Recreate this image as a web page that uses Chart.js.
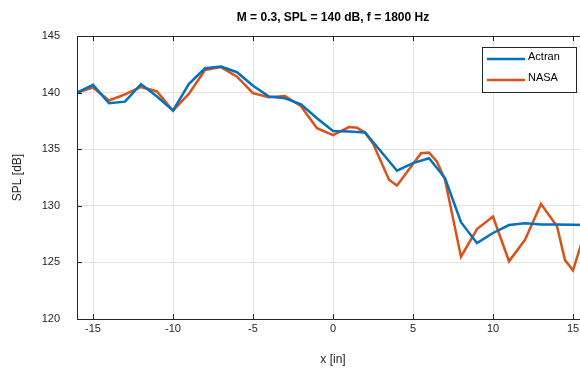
<!DOCTYPE html>
<html lang="en">
<head>
    <meta charset="UTF-8">
    <title>SPL vs x</title>
    <script src="https://cdn.jsdelivr.net/npm/chart.js"></script>
    <style>
        html, body { margin: 0; padding: 0; background: #fff; overflow: hidden; }
        #wrap { width: 600px; height: 371px; }
    </style>
</head>
<body>
    <div id="wrap"><canvas id="grafico" width="600" height="371"></canvas></div>

    <script>
        // dados
        const actranX = [-16, -15, -14, -13, -12, -11, -10, -9, -8, -7, -6, -5, -4, -3, -2, -1, 0,
                         1, 2, 3, 4, 5, 6, 7, 8, 9, 10, 11, 12, 13, 14, 15, 16];
        const actranY = [140.0, 140.68, 139.06, 139.2, 140.75, 139.65, 138.41, 140.77, 142.15, 142.3, 141.8, 140.6, 139.65, 139.5, 138.97, 137.74, 136.6,
                         136.56, 136.47, 134.8, 133.1, 133.77, 134.2, 132.45, 128.55, 126.7, 127.6, 128.3, 128.45, 128.35, 128.35, 128.33, 128.3];

        const nasaX = [-16, -15, -14, -13, -12, -11, -10, -9, -8, -7, -6, -5, -4, -3, -2, -1, 0,
                       1, 1.5, 2, 2.5, 3.5, 4, 5, 5.5, 6, 6.5, 7, 8, 9, 10, 11, 12, 13, 14, 14.5, 15, 16];
        const nasaY = [140.0, 140.45, 139.3, 139.85, 140.5, 140.1, 138.4, 139.9, 142.0, 142.25, 141.4, 139.95, 139.6, 139.7, 138.8, 136.86, 136.25,
                       136.95, 136.9, 136.47, 135.5, 132.3, 131.8, 133.7, 134.65, 134.7, 133.9, 132.3, 125.5, 127.95, 129.05, 125.1, 127.0, 130.15, 128.2, 125.2, 124.3, 128.8];

        const xTicks = [-15, -10, -5, 0, 5, 10, 15];
        const yTicks = [120, 125, 130, 135, 140, 145];

        const fonte = 'Liberation Sans, Arial, sans-serif';
        const corEixo = '#262626';

        function pares(xs, ys) {
            return xs.map((x, i) => ({ x: x, y: ys[i] }));
        }

        // caixa do eixo, ticks para dentro e legenda (estilo MATLAB)
        const caixaPlugin = {
            id: 'caixa',
            afterDraw(chart) {
                const { ctx, chartArea: a, scales } = chart;
                const sx = scales.x, sy = scales.y;
                ctx.save();
                ctx.strokeStyle = corEixo;
                ctx.lineWidth = 1;
                ctx.beginPath();
                ctx.rect(Math.round(a.left) + 0.5, Math.round(a.top) + 0.5, Math.round(a.right - a.left), Math.round(a.bottom - a.top));
                ctx.stroke();

                ctx.beginPath();
                xTicks.forEach(v => {
                    const px = Math.round(sx.getPixelForValue(v)) + 0.5;
                    ctx.moveTo(px, a.bottom); ctx.lineTo(px, a.bottom - 5);
                    ctx.moveTo(px, a.top); ctx.lineTo(px, a.top + 5);
                });
                yTicks.forEach(v => {
                    const py = Math.round(sy.getPixelForValue(v)) + 0.5;
                    ctx.moveTo(a.left, py); ctx.lineTo(a.left + 5, py);
                    ctx.moveTo(a.right, py); ctx.lineTo(a.right - 5, py);
                });
                ctx.stroke();

                // legenda
                const lx = 482.5, ly = 47.5, lw = 94, lh = 45;
                ctx.fillStyle = '#fff';
                ctx.fillRect(lx, ly, lw, lh);
                ctx.strokeStyle = corEixo;
                ctx.strokeRect(lx, ly, lw, lh);
                ctx.font = '11px ' + fonte;
                ctx.textBaseline = 'middle';
                ctx.textAlign = 'left';
                chart.data.datasets.forEach((ds, i) => {
                    const yy = 59 + i * 21;
                    ctx.strokeStyle = ds.borderColor;
                    ctx.lineWidth = 2.5;
                    ctx.beginPath();
                    ctx.moveTo(487, yy); ctx.lineTo(525, yy);
                    ctx.stroke();
                    ctx.fillStyle = '#000';
                    ctx.fillText(ds.label, 528, yy - 2);
                });
                ctx.restore();
            }
        };

        let ctx = document.getElementById('grafico').getContext('2d');

        let grafico = new Chart(ctx, {
            type: 'line',
            data: {
                datasets: [{
                    label: 'Actran',
                    data: pares(actranX, actranY),
                    borderColor: '#0072BD',
                    borderWidth: 2.5,
                    pointRadius: 0,
                    tension: 0,
                    fill: false
                }, {
                    label: 'NASA',
                    data: pares(nasaX, nasaY),
                    borderColor: '#D95319',
                    borderWidth: 2.5,
                    pointRadius: 0,
                    tension: 0,
                    fill: false
                }]
            },
            options: {
                responsive: false,
                animation: false,
                layout: { padding: { left: 0, top: 0, right: 11, bottom: 0 } },
                plugins: {
                    legend: { display: false },
                    tooltip: { enabled: false },
                    title: {
                        display: true,
                        fullSize: false,
                        text: 'M = 0.3, SPL = 140 dB, f = 1800 Hz',
                        color: '#000',
                        font: { family: fonte, size: 12, weight: 'bold' },
                        padding: { top: 10, bottom: 11.6 }
                    }
                },
                scales: {
                    x: {
                        type: 'linear',
                        min: -16,
                        max: 16,
                        afterBuildTicks(s) { s.ticks = xTicks.map(v => ({ value: v })); },
                        ticks: { color: corEixo, font: { family: fonte, size: 11 }, padding: 3, maxRotation: 0 },
                        grid: { color: '#e3e3e3', drawTicks: false },
                        border: { display: false },
                        title: { display: true, text: 'x [in]', color: corEixo, font: { family: fonte, size: 12 }, padding: { top: 0, bottom: 4 } },
                        afterFit(s) { s.height = 52; }
                    },
                    y: {
                        min: 120,
                        max: 145,
                        afterBuildTicks(s) { s.ticks = yTicks.map(v => ({ value: v })); },
                        ticks: { color: corEixo, font: { family: fonte, size: 11 }, padding: 17 },
                        grid: { color: '#e3e3e3', drawTicks: false },
                        border: { display: false },
                        title: { display: true, text: 'SPL [dB]', color: corEixo, font: { family: fonte, size: 12 }, padding: { top: 10, bottom: 0 } },
                        afterFit(s) { s.width = 77; }
                    }
                }
            },
            plugins: [caixaPlugin]
        });
    </script>
</body>
</html>
